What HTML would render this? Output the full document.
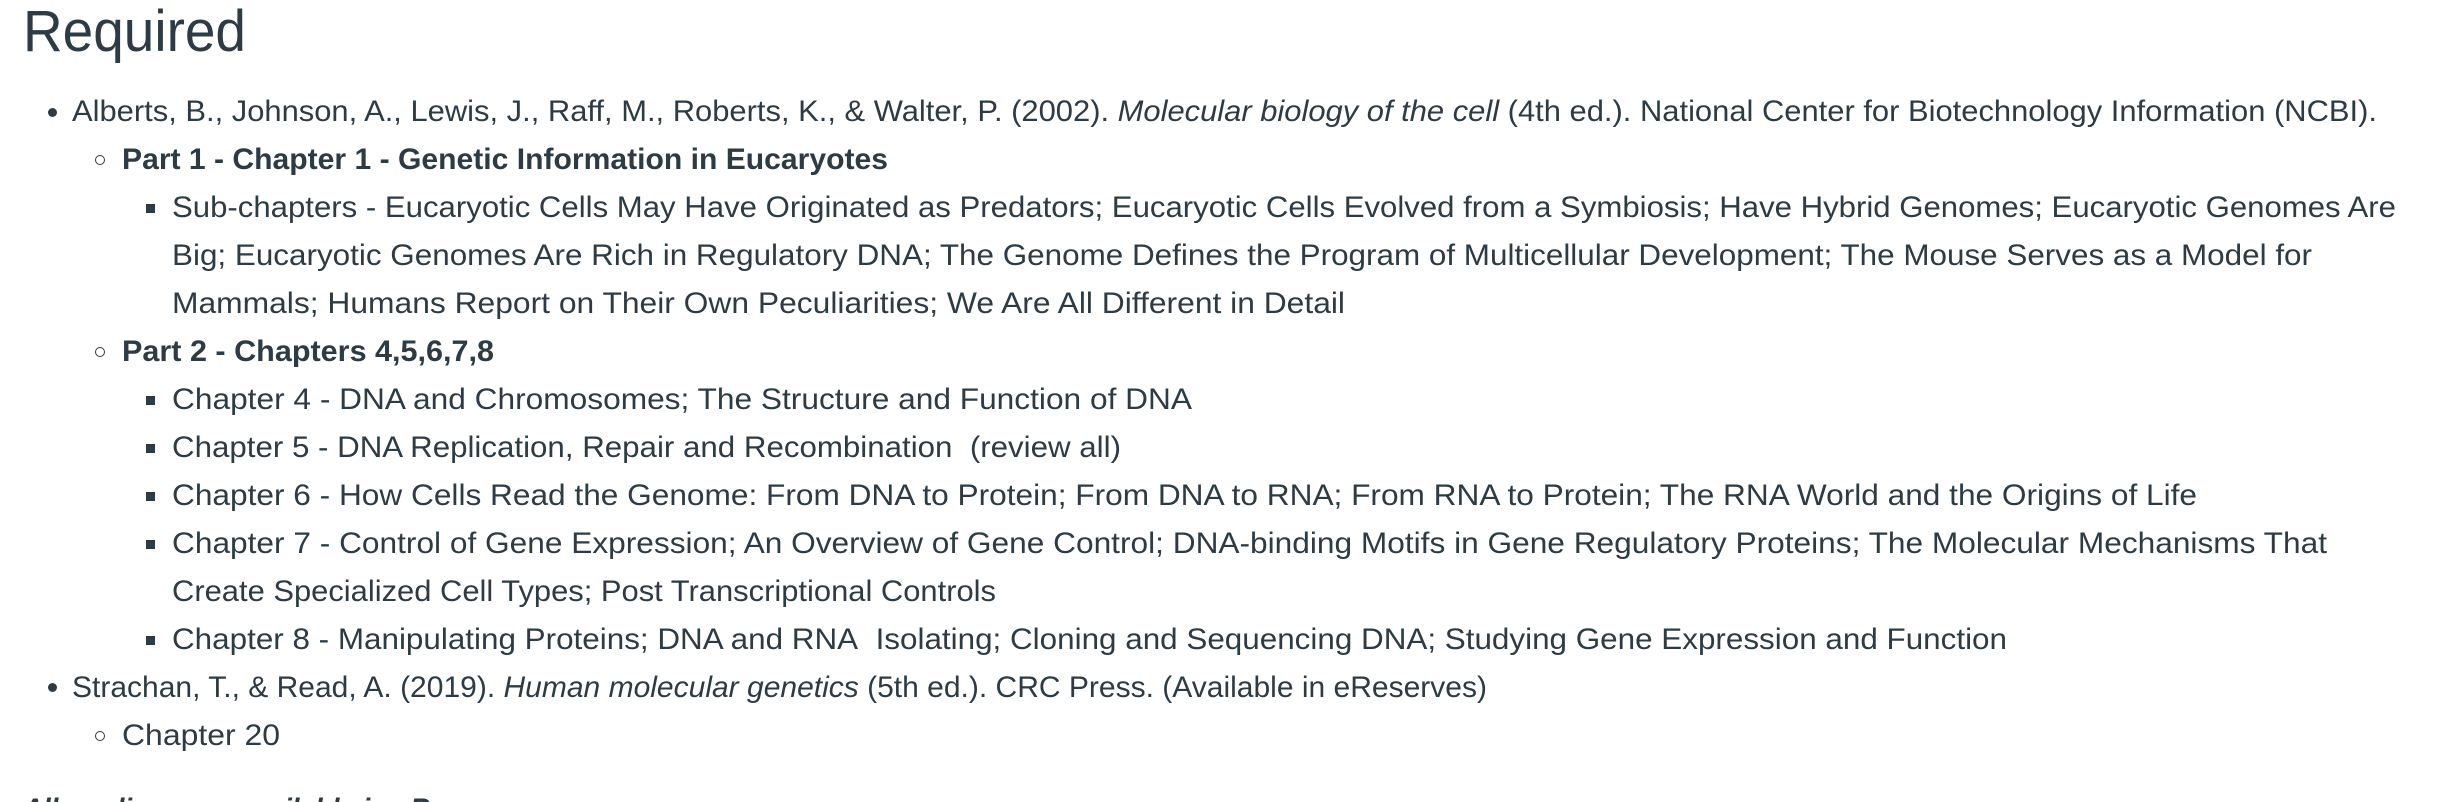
<!DOCTYPE html>
<html><head><meta charset="utf-8">
<style>
html{margin:0;padding:0;background:#fff;width:2452px;height:802px;overflow:hidden;}
body{margin:0;padding:0;background:#fff;width:2452px;height:802px;overflow:hidden;position:relative;font-family:"Liberation Sans",sans-serif;color:#2d3b45;}
.t{position:absolute;white-space:nowrap;font-size:30px;line-height:48px;transform-origin:0 50%;}
h1{position:absolute;left:23px;top:-3px;margin:0;font-weight:normal;font-size:58px;line-height:70px;white-space:nowrap;transform-origin:0 50%;}
.b{position:absolute;}
.disc{width:9px;height:9px;border-radius:50%;background:#2d3b45;}
.circ{border-radius:50%;border:1.5px solid #2d3b45;box-sizing:border-box;width:10px;height:10px;}
.sq{width:9px;height:9px;background:#2d3b45;}
b{font-weight:bold;}
#clip{position:absolute;left:0;top:0;width:2452px;height:802px;overflow:hidden;}
</style></head><body>
<div id="clip">
<h1 data-w="223">Required</h1>

<div class="b disc" style="left:48px;top:108px"></div>
<div class="t" style="left:72px;top:88px" data-w="2305">Alberts, B., Johnson, A., Lewis, J., Raff, M., Roberts, K., &amp; Walter, P. (2002). <i>Molecular biology of the cell</i> (4th ed.). National Center for Biotechnology Information (NCBI).</div>

<div class="b circ" style="left:95px;top:155px"></div>
<div class="t" style="left:122px;top:136px" data-w="766"><b>Part 1 - Chapter 1 - Genetic Information in Eucaryotes</b></div>

<div class="b sq" style="left:146px;top:204px"></div>
<div class="t" style="left:172px;top:184px" data-w="2224">Sub-chapters - Eucaryotic Cells May Have Originated as Predators; Eucaryotic Cells Evolved from a Symbiosis; Have Hybrid Genomes; Eucaryotic Genomes Are</div>
<div class="t" style="left:172px;top:232px" data-w="2140">Big; Eucaryotic Genomes Are Rich in Regulatory DNA; The Genome Defines the Program of Multicellular Development; The Mouse Serves as a Model for</div>
<div class="t" style="left:172px;top:280px" data-w="1173">Mammals; Humans Report on Their Own Peculiarities; We Are All Different in Detail</div>

<div class="b circ" style="left:95px;top:347px"></div>
<div class="t" style="left:122px;top:328px" data-w="372"><b>Part 2 - Chapters 4,5,6,7,8</b></div>

<div class="b sq" style="left:146px;top:396px"></div>
<div class="t" style="left:172px;top:376px" data-w="1020">Chapter 4 - DNA and Chromosomes; The Structure and Function of DNA</div>
<div class="b sq" style="left:146px;top:444px"></div>
<div class="t" style="left:172px;top:424px" data-w="949">Chapter 5 - DNA Replication, Repair and Recombination&nbsp; (review all)</div>
<div class="b sq" style="left:146px;top:492px"></div>
<div class="t" style="left:172px;top:472px" data-w="2025">Chapter 6 - How Cells Read the Genome: From DNA to Protein; From DNA to RNA; From RNA to Protein; The RNA World and the Origins of Life</div>
<div class="b sq" style="left:146px;top:540px"></div>
<div class="t" style="left:172px;top:520px" data-w="2155">Chapter 7 - Control of Gene Expression; An Overview of Gene Control; DNA-binding Motifs in Gene Regulatory Proteins; The Molecular Mechanisms That</div>
<div class="t" style="left:172px;top:568px" data-w="824">Create Specialized Cell Types; Post Transcriptional Controls</div>
<div class="b sq" style="left:146px;top:636px"></div>
<div class="t" style="left:172px;top:616px" data-w="1835">Chapter 8 - Manipulating Proteins; DNA and RNA&nbsp; Isolating; Cloning and Sequencing DNA; Studying Gene Expression and Function</div>

<div class="b disc" style="left:48px;top:683px"></div>
<div class="t" style="left:72px;top:664px" data-w="1415">Strachan, T., &amp; Read, A. (2019). <i>Human molecular genetics</i> (5th ed.). CRC Press. (Available in eReserves)</div>
<div class="b circ" style="left:95px;top:731px"></div>
<div class="t" style="left:122px;top:712px" data-w="158">Chapter 20</div>

<div class="t" style="left:23px;top:786px" data-w="510"><b><i>All readings are available in eReserves</i></b></div>
</div>
<script>
document.querySelectorAll('[data-w]').forEach(function(el){
  var w=el.getBoundingClientRect().width;
  var tw=parseFloat(el.getAttribute('data-w'));
  if(w>0) el.style.transform='scaleX('+(tw/w)+')';
});
</script>
</body></html>
